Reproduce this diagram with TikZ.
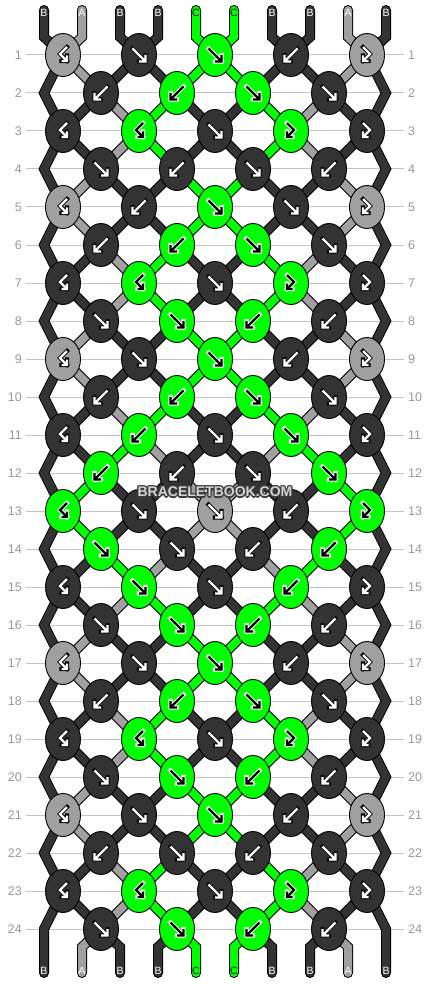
\documentclass[tikz,border=0pt]{standalone}
\usepackage{fontspec}
\setmainfont{Liberation Sans}
\usetikzlibrary{shapes.geometric}
\definecolor{sB}{HTML}{333333}
\definecolor{sA}{HTML}{A0A0A0}
\definecolor{sC}{HTML}{00FF00}
\definecolor{tB}{HTML}{FFFFFF}
\definecolor{tA}{HTML}{FFFFFF}
\definecolor{tC}{HTML}{000000}
\definecolor{aB}{HTML}{FFFFFF}
\definecolor{oB}{HTML}{111111}
\definecolor{aA}{HTML}{FFFFFF}
\definecolor{oA}{HTML}{000000}
\definecolor{aC}{HTML}{000000}
\definecolor{oC}{HTML}{FFFFFF}
\definecolor{rowline}{HTML}{C4C4C4}
\definecolor{rownum}{HTML}{9A9A9A}
\definecolor{wmfill}{HTML}{D4D4D4}
\definecolor{wmline}{HTML}{3C3C3C}
\tikzset{
  strO/.style={line width=10pt, draw=black, line cap=round, line join=miter},
  strF/.style={line width=8pt, draw=s#1, line cap=round, line join=miter},
  knotnode/.style={ellipse, minimum width=35pt, minimum height=43pt, inner sep=0pt, draw=black, line width=0.9pt, fill=s#1},
  rowln/.style={draw=rowline, line width=1pt},
  rownr/.style={text=rownum, font=\fontsize{12.5}{12.5}\selectfont, inner sep=0pt},
  endlbl/.style={font=\fontsize{10.5}{10.5}\selectfont, inner sep=0pt, text=t#1},
  glyO/.style={draw=o#1, line width=4.2pt, line cap=rect, line join=miter},
  glyF/.style={draw=a#1, line width=2.2pt, line cap=butt, line join=miter},
  wm/.style={font=\bfseries\fontsize{14}{14}\selectfont, inner sep=0pt},
  pics/gF/.style={code={\path[pic actions] (-6.5,-6.5)--(6.5,6.5) (6.5,0)--(6.5,6.5)--(0,6.5);}},
  pics/gB/.style={code={\path[pic actions] (6.5,-6.5)--(-6.5,6.5) (-6.5,0)--(-6.5,6.5)--(0,6.5);}},
  pics/gBF/.style={code={\path[pic actions] (4,-8)--(-3,-1)--(4,6) (4,0.5)--(4,6)--(-1.5,6);}},
  pics/gFB/.style={code={\path[pic actions] (-4,-8)--(3,-1)--(-4,6) (-4,0.5)--(-4,6)--(1.5,6);}},
}
\newcommand\stringpass[1]{%
 \foreach \rw/\stt in {
  1/{B,A,B,B,C,C,B,B,A,B}, 2/{B,A,B,B,C,C,B,B,A,B}, 3/{B,B,A,C,B,B,C,A,B,B}, 4/{B,B,A,C,B,B,C,A,B,B},
  5/{B,A,B,B,C,C,B,B,A,B}, 6/{B,A,B,B,C,C,B,B,A,B}, 7/{B,B,A,C,B,B,C,A,B,B}, 8/{B,B,A,C,B,B,C,A,B,B},
  9/{B,A,B,B,C,C,B,B,A,B}, 10/{B,A,B,B,C,C,B,B,A,B}, 11/{B,B,A,C,B,B,C,A,B,B}, 12/{B,B,C,A,B,B,A,C,B,B},
  13/{B,C,B,B,A,A,B,B,C,B}, 14/{B,C,B,B,A,A,B,B,C,B}, 15/{B,B,C,A,B,B,A,C,B,B}, 16/{B,B,A,C,B,B,C,A,B,B},
  17/{B,A,B,B,C,C,B,B,A,B}, 18/{B,A,B,B,C,C,B,B,A,B}, 19/{B,B,A,C,B,B,C,A,B,B}, 20/{B,B,A,C,B,B,C,A,B,B},
  21/{B,A,B,B,C,C,B,B,A,B}, 22/{B,A,B,B,C,C,B,B,A,B}, 23/{B,B,A,C,B,B,C,A,B,B}, 24/{B,B,A,C,B,B,C,A,B,B}}{%
  \pgfmathtruncatemacro\rp{\rw-1}%
  \pgfmathtruncatemacro\rpp{\rw-2}%
  \foreach \scol [count=\pos from 0] in \stt {%
   \pgfmathtruncatemacro\isedge{or(\pos==0,\pos==9)}%
   \ifnum\rw=1
    \draw[str#1=\scol] (T-\pos) -- (TB-\pos) -- (L-1-\pos);
   \else
    \ifnum\isedge=1
     \ifodd\rw
      \draw[str#1=\scol] (L-\rpp-\pos) -- (L-\rp-\pos) -- (L-\rw-\pos);
     \else
      \ifnum\rw=24
       \draw[str#1=\scol] (L-\rp-\pos) -- (L-\rw-\pos) -- (BB-\pos) -- (BE-\pos);
      \fi
     \fi
    \else
     \draw[str#1=\scol] (L-\rp-\pos) -- (L-\rw-\pos);
    \fi
   \fi
  }%
 }%
 \foreach \scol [count=\pos from 0] in {B,A,B,B,C,C,B,B,A,B} {%
  \ifnum\pos>0 \ifnum\pos<9
   \draw[str#1=\scol] (L-24-\pos) -- (BB-\pos) -- (BE-\pos);
  \fi\fi
 }%
}
\begin{document}
\begin{tikzpicture}[x=1pt,y=-1pt]
\fill[white] (0,0) rectangle (430,984);
\useasboundingbox (0,0) rectangle (430,984);
% row guide lines and numbers
\foreach \rw in {1,...,24} {
  \pgfmathsetmacro\yy{55+38*(\rw-1)}
  \draw[rowln] (26,\yy) -- (404,\yy);
  \node[rownr, anchor=east] (nl\rw) at (22,\yy) {\rw};
  \node[rownr, anchor=west] (nr\rw) at (408,\yy) {\rw};
}
% string locations
\foreach \rw in {1,...,24} {
  \foreach \pos in {0,...,9} {
    \pgfmathsetmacro\cx{ifthenelse(isodd(\rw), 63+76*floor(\pos/2), ifthenelse(or(\pos==0,\pos==9), 44+38*\pos, 101+76*floor((\pos-1)/2)))}
    \pgfmathsetmacro\cy{55+38*(\rw-1)}
    \coordinate (L-\rw-\pos) at (\cx,\cy);
  }
}
\foreach \pos in {0,...,9} {
  \pgfmathsetmacro\px{44+38*\pos}
  \coordinate (T-\pos) at (\px,10);
  \coordinate (TB-\pos) at (\px,37);
  \coordinate (BB-\pos) at (\px,947);
  \coordinate (BE-\pos) at (\px,973);
}
% strings
\stringpass{O}
\stringpass{F}
% end labels
\foreach \scol [count=\pos from 0] in {B,A,B,B,C,C,B,B,A,B} {
  \pgfmathsetmacro\px{44+38*(\pos)}
  \node[endlbl=\scol] (tl\pos) at (\px,13) {\scol};
  \node[endlbl=\scol] (bl\pos) at (\px,971) {\scol};
}
% knots
\foreach \rw/\kl in {
  1/{BF/A,F/B,F/C,B/B,FB/A}, 2/{B/B,B/C,F/C,F/B}, 3/{BF/B,BF/C,F/B,FB/C,FB/B}, 4/{F/B,B/B,F/B,B/B},
  5/{BF/A,B/B,F/C,F/B,FB/A}, 6/{B/B,B/C,F/C,F/B}, 7/{BF/B,BF/C,F/B,FB/C,FB/B}, 8/{F/B,F/C,B/C,B/B},
  9/{BF/A,F/B,F/C,B/B,FB/A}, 10/{B/B,B/C,F/C,F/B}, 11/{BF/B,B/C,F/B,F/C,FB/B}, 12/{B/C,B/B,F/B,F/C},
  13/{BF/C,F/B,F/A,B/B,FB/C}, 14/{F/C,F/B,B/B,B/C}, 15/{BF/B,F/C,F/B,B/C,FB/B}, 16/{F/B,F/C,B/C,B/B},
  17/{BF/A,F/B,F/C,B/B,FB/A}, 18/{B/B,B/C,F/C,F/B}, 19/{BF/B,BF/C,F/B,FB/C,FB/B}, 20/{F/B,F/C,B/C,B/B},
  21/{BF/A,F/B,F/C,B/B,FB/A}, 22/{B/B,F/B,B/B,F/B}, 23/{BF/B,BF/C,F/B,FB/C,FB/B}, 24/{F/B,F/C,B/C,B/B}} {
  \foreach \ty/\kc [count=\i from 0] in \kl {
    \pgfmathtruncatemacro\kp{ifthenelse(isodd(\rw), 2*\i, 2*\i+1)}
    \node[knotnode=\kc] (K-\rw-\i) at (L-\rw-\kp) {};
    \pic[glyO=\kc] at (K-\rw-\i) {g\ty};
    \pic[glyF=\kc] at (K-\rw-\i) {g\ty};
  }
}
% watermark
\foreach \dx/\dy in {-1/-1,0/-1.2,1/-1,1.2/0,1/1,0/1.2,-1/1,-1.2/0} {
  \node[wm, text=wmline, xshift=\dx pt, yshift=\dy pt] at (215,492) {BRACELETBOOK.COM};
}
\node[wm, text=wmfill] (wmk) at (215,492) {BRACELETBOOK.COM};
\end{tikzpicture}
\end{document}
